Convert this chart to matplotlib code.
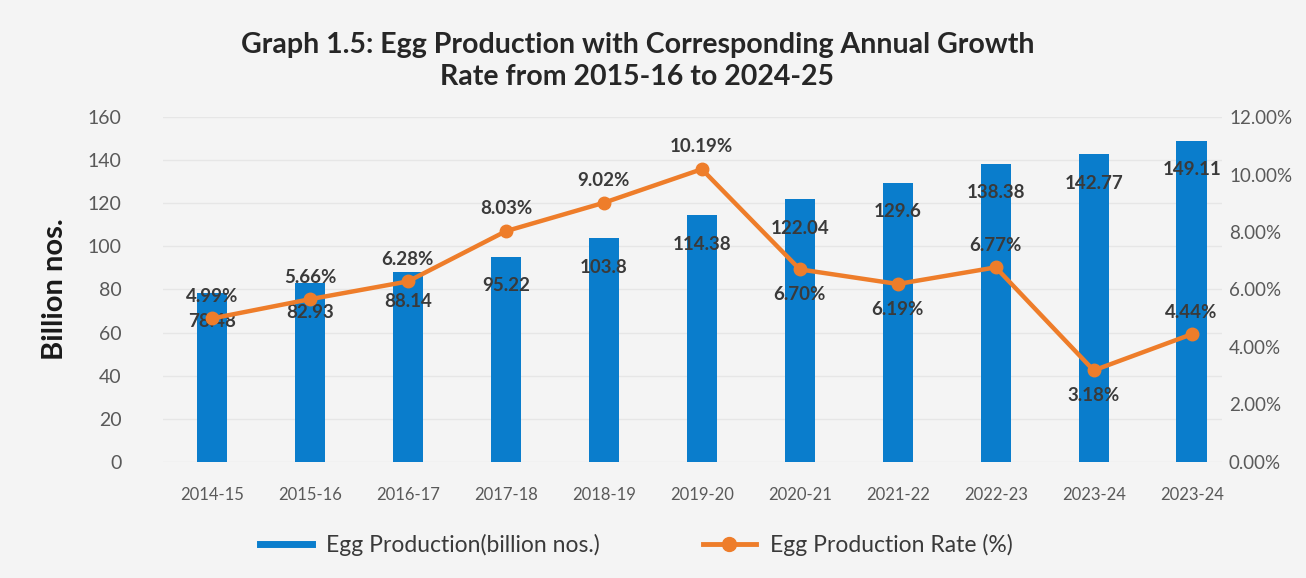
import matplotlib
matplotlib.use("Agg")
import matplotlib.pyplot as plt
from matplotlib.lines import Line2D
from matplotlib.ticker import FuncFormatter

plt.rcParams['font.family'] = ['Lato', 'DejaVu Sans']

# Data
years = ["2014-15", "2015-16", "2016-17", "2017-18", "2018-19", "2019-20",
         "2020-21", "2021-22", "2022-23", "2023-24", "2023-24"]
production = [78.48, 82.93, 88.14, 95.22, 103.8, 114.38, 122.04, 129.6, 138.38, 142.77, 149.11]
growth_rate = [4.99, 5.66, 6.28, 8.03, 9.02, 10.19, 6.70, 6.19, 6.77, 3.18, 4.44]
rate_label_side = ["above", "above", "above", "above", "above", "above",
                   "below", "below", "above", "below", "above"]

BG = "#f4f4f4"
BLUE = "#0a7dcc"
ORANGE = "#ee7d2a"
TXT = "#3a3a3a"
TICK = "#595959"

fig = plt.figure(figsize=(13.06, 5.78), dpi=100, facecolor=BG)
ax = fig.add_axes([0.1248, 0.2012, 0.8109, 0.596])
ax.set_facecolor(BG)
x = list(range(len(years)))

# bars
bars = ax.bar(x, production, width=0.31, color=BLUE, zorder=2)
ax.set_ylim(0, 160)
ax.set_xlim(-0.5, 10.31)
ax.set_yticks(range(0, 161, 20))
ax.grid(axis="y", color="#e6e6e6", linewidth=1, zorder=0)
ax.set_xticks(x)
ax.set_xticklabels(years)
ax.tick_params(axis="x", length=0, pad=18, labelsize=12, labelcolor=TICK)
ax.tick_params(axis="y", length=0, pad=30, labelsize=14, labelcolor=TICK)
for s in ax.spines.values():
    s.set_visible(False)
ax.set_ylabel("Billion nos.", fontsize=21, fontweight="bold", color="#1a1a1a", labelpad=14)

# growth rate line on the right axis
ax2 = ax.twinx()
ax2.plot(x, growth_rate, color=ORANGE, linewidth=3.2, marker="o", markersize=9, zorder=3)
ax2.set_ylim(0, 12)
ax2.set_yticks(range(0, 13, 2))
ax2.yaxis.set_major_formatter(FuncFormatter(lambda v, p: "{:.2f}%".format(v)))
ax2.tick_params(axis="y", length=0, pad=5, labelsize=13.5, labelcolor=TICK)
for s in ax2.spines.values():
    s.set_visible(False)

# data labels
for xi, v in zip(x, production):
    ax.annotate("{:g}".format(v), (xi, v), xytext=(0, -21), textcoords="offset points",
                ha="center", va="center", fontsize=13.5, fontweight="bold", color=TXT, zorder=5)
for xi, v, side in zip(x, growth_rate, rate_label_side):
    dy = 16 if side == "above" else -18
    ax2.annotate("{:.2f}%".format(v), (xi, v), xytext=(0, dy), textcoords="offset points",
                 ha="center", va="center", fontsize=13.5, fontweight="bold", color=TXT, zorder=5)

fig.suptitle("Graph 1.5: Egg Production with Corresponding Annual Growth\nRate from 2015-16 to 2024-25",
             x=0.488, y=0.945, fontsize=20.5, fontweight="bold", color="#262626", linespacing=1.3)

handles = [Line2D([], [], color=BLUE, linewidth=5),
           Line2D([], [], color=ORANGE, linewidth=3.5, marker="o", markersize=10)]
fig.legend(handles, ["Egg Production(billion nos.)", "Egg Production Rate (%)"],
           loc="center", bbox_to_anchor=(0.487, 0.057), ncol=2, frameon=False,
           fontsize=16.5, handlelength=2.3, handletextpad=0.6, columnspacing=4.5, labelcolor=TXT)

fig.savefig("out.png", dpi=100, facecolor=BG)
